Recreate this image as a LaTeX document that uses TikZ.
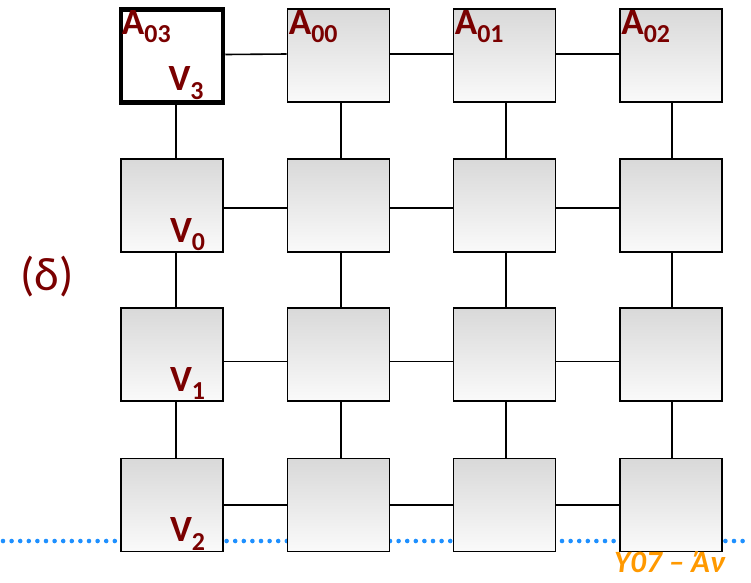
\documentclass[tikz,border=0pt]{standalone}
\usepackage{fontspec}
\setmainfont{Carlito}
\usetikzlibrary{positioning}
\definecolor{labelred}{RGB}{122,0,0}
\definecolor{dotblue}{RGB}{30,144,255}
\definecolor{footorange}{RGB}{255,153,0}
\tikzset{
  box/.style={draw, minimum width=102pt, minimum height=93pt, inner sep=0pt},
  cell/.style={box, line width=1.6pt, top color=gray!30, bottom color=gray!4},
  current/.style={box, line width=4.5pt, fill=white},
  link/.style={line width=1.6pt},
  lab/.style={text=labelred, font=\fontsize{37}{37}\selectfont\bfseries, inner sep=1pt},
  dotline/.style={dotblue, line width=4.6pt, line cap=round, dash pattern=on 0pt off 8.6pt}
}
\begin{document}
\begin{tikzpicture}[x=1pt, y=-1pt]
    \useasboundingbox (0,0) rectangle (751,582);
    \clip (0,0) rectangle (751,582);

    % dotted line behind the grid
    \coordinate (dl) at (3,541);
    \coordinate (dr) at (751,541);
    \draw[dotline] (dl) -- (dr);

    % grid of cells
    \foreach \c/\x in {0/172,1/338.5,2/504.5,3/671}
      \foreach \r/\y in {0/55.5,1/205.5,2/354.5,3/505}
        \node[cell] (b\r\c) at (\x,\y) {};
    \node[current] (b00) at (172,56) {};

    % horizontal links
    \foreach \r/\o in {0/1.5,1/-2.5,2/-7,3/0}
      \foreach \c/\d in {0/1,1/2,2/3}
        \draw[link] ([yshift=\o pt]b\r\c.east) -- ([yshift=\o pt]b\r\d.west);

    % vertical links
    \foreach \c/\o in {0/4,1/2.5,2/1.5,3/1}
      \foreach \r/\s in {0/1,1/2,2/3}
        \draw[link] ([xshift=\o pt]b\r\c.south) -- ([xshift=\o pt]b\s\c.north);

    % labels
    \node[lab, anchor=north west] (a03) at ([xshift=2pt, yshift=-2pt]b00.north west) {A\textsubscript{03}};
    \node[lab, anchor=north west] (a00) at ([xshift=1pt, yshift=-1pt]b01.north west) {A\textsubscript{00}};
    \node[lab, anchor=north west] (a01) at ([xshift=1pt, yshift=-1pt]b02.north west) {A\textsubscript{01}};
    \node[lab, anchor=north west] (a02) at ([xshift=1pt, yshift=-1pt]b03.north west) {A\textsubscript{02}};
    \node[lab, anchor=south east] (v3) at ([xshift=-20pt, yshift=4pt]b00.south east) {V\textsubscript{3}};
    \node[lab, anchor=south east] (v0) at ([xshift=-17pt, yshift=1pt]b10.south east) {V\textsubscript{0}};
    \node[lab, anchor=south east] (v1) at ([xshift=-17pt, yshift=1pt]b20.south east) {V\textsubscript{1}};
    \node[lab, anchor=south east] (v2) at ([xshift=-17pt, yshift=1pt]b30.south east) {V\textsubscript{2}};

    \node[text=labelred, font=\fontsize{47}{47}\selectfont] (tag) at (47,277) {(δ)};

    % footer
    \node[text=footorange, font=\fontsize{31}{31}\selectfont\bfseries\itshape, anchor=north west, inner sep=0pt] (foot) at (614,551) {Υ07 – Άν};
\end{tikzpicture}
\end{document}
